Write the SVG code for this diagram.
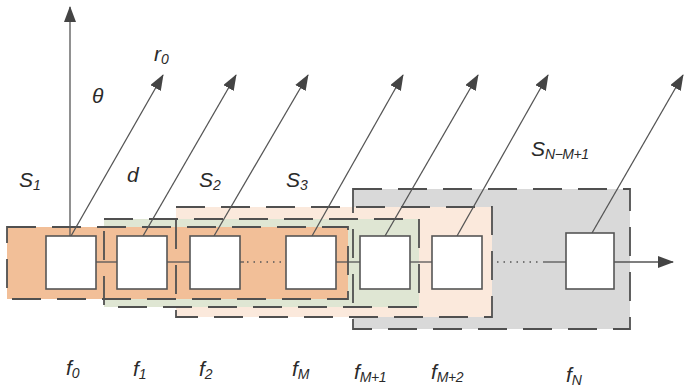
<svg xmlns="http://www.w3.org/2000/svg" width="684" height="389" viewBox="0 0 684 389">
  <defs>
    <marker id="arrow" viewBox="0 0 16 12" refX="15" refY="6" markerWidth="16" markerHeight="12" markerUnits="userSpaceOnUse" orient="auto">
      <path d="M0,0 L16,6 L0,12 Z" fill="#444"/>
    </marker>
    <style>
      .region { stroke: none; }
      .frame { fill: none; stroke: #505050; stroke-width: 1.8; stroke-dasharray: 29 16; }
      .box { fill: #fff; stroke: #555; stroke-width: 1.6; }
      .link { stroke: #555; stroke-width: 1.3; fill: none; }
      .dots { stroke: #555; stroke-width: 1.3; stroke-dasharray: 1.5 5; fill: none; }
      .ray { stroke: #555; stroke-width: 1.3; fill: none; marker-end: url(#arrow); }
      .lbl { font-family: "Liberation Sans", Arial, sans-serif; font-style: italic; fill: #2a2a2a; font-size: 21px; }
      .sub { font-size: 14px; letter-spacing: -0.5px; }
    </style>
  </defs>

  <!-- window fills, widest first -->
  <g id="window-fills">
    <rect class="region" x="353" y="189" width="277" height="140" fill="#d9d9d9"/>
    <rect class="region" x="176" y="207" width="316" height="110" fill="#fbe9dc"/>
    <rect class="region" x="104" y="219" width="315" height="88" fill="#dfe6d3"/>
    <rect class="region" x="7" y="227" width="341" height="72" fill="#f2bf98"/>
  </g>

  <!-- window outlines -->
  <g id="window-outlines">
    <rect class="frame" x="353" y="189" width="277" height="140"/>
    <rect class="frame" x="176" y="207" width="316" height="110"/>
    <rect class="frame" x="104" y="219" width="315" height="88"/>
    <rect class="frame" x="7" y="227" width="341" height="72"/>
  </g>

  <!-- connectors -->
  <g id="connectors">
    <line class="link" x1="96" y1="262" x2="117" y2="262"/>
    <line class="link" x1="167" y1="262" x2="190" y2="262"/>
    <line class="link" x1="240" y1="262" x2="244" y2="262"/>
    <line class="dots" x1="247" y1="262" x2="283" y2="262"/>
    <line class="link" x1="336" y1="262" x2="360" y2="262"/>
    <line class="link" x1="410" y1="262" x2="432" y2="262"/>
    <line class="dots" x1="497" y1="262" x2="540" y2="262"/>
    <line class="link" x1="543" y1="262" x2="566" y2="262"/>
    <line class="ray" x1="614" y1="262" x2="673" y2="262"/>
    <!-- normal axis -->
    <line class="ray" x1="70" y1="236" x2="70" y2="7"/>
    <!-- beam directions -->
    <line class="ray" x1="71" y1="236" x2="163" y2="75"/>
    <line class="ray" x1="143" y1="236" x2="236" y2="75"/>
    <line class="ray" x1="214" y1="236" x2="308" y2="75"/>
    <line class="ray" x1="312" y1="236" x2="403" y2="75"/>
    <line class="ray" x1="385" y1="236" x2="478" y2="75"/>
    <line class="ray" x1="457" y1="236" x2="548" y2="75"/>
    <line class="ray" x1="592" y1="233" x2="683" y2="75"/>
  </g>

  <!-- elements -->
  <g id="f0"><rect class="box" x="46" y="236" width="50" height="53"/></g>
  <g id="f1"><rect class="box" x="117" y="236" width="50" height="53"/></g>
  <g id="f2"><rect class="box" x="190" y="236" width="50" height="53"/></g>
  <g id="fM"><rect class="box" x="286" y="236" width="50" height="53"/></g>
  <g id="fM1"><rect class="box" x="360" y="236" width="50" height="53"/></g>
  <g id="fM2"><rect class="box" x="432" y="236" width="50" height="53"/></g>
  <g id="fN"><rect class="box" x="566" y="233" width="48" height="56"/></g>

  <!-- labels -->
  <g id="labels">
    <text class="lbl" x="154" y="61">r<tspan class="sub" dy="3">0</tspan></text>
    <text class="lbl" x="92" y="103">θ</text>
    <text class="lbl" x="19" y="187">S<tspan class="sub" dy="3">1</tspan></text>
    <text class="lbl" x="127" y="182">d</text>
    <text class="lbl" x="199" y="187">S<tspan class="sub" dy="3">2</tspan></text>
    <text class="lbl" x="286" y="187">S<tspan class="sub" dy="3">3</tspan></text>
    <text class="lbl" x="531" y="156">S<tspan class="sub" dy="3">N−M+1</tspan></text>
    <text class="lbl" x="66" y="375">f<tspan class="sub" dy="3">0</tspan></text>
    <text class="lbl" x="133" y="376">f<tspan class="sub" dy="3">1</tspan></text>
    <text class="lbl" x="199" y="376">f<tspan class="sub" dy="3">2</tspan></text>
    <text class="lbl" x="292" y="376">f<tspan class="sub" dy="3">M</tspan></text>
    <text class="lbl" x="354" y="379">f<tspan class="sub" dy="3">M+1</tspan></text>
    <text class="lbl" x="431" y="379">f<tspan class="sub" dy="3">M+2</tspan></text>
    <text class="lbl" x="566" y="382">f<tspan class="sub" dy="3">N</tspan></text>
  </g>
</svg>
